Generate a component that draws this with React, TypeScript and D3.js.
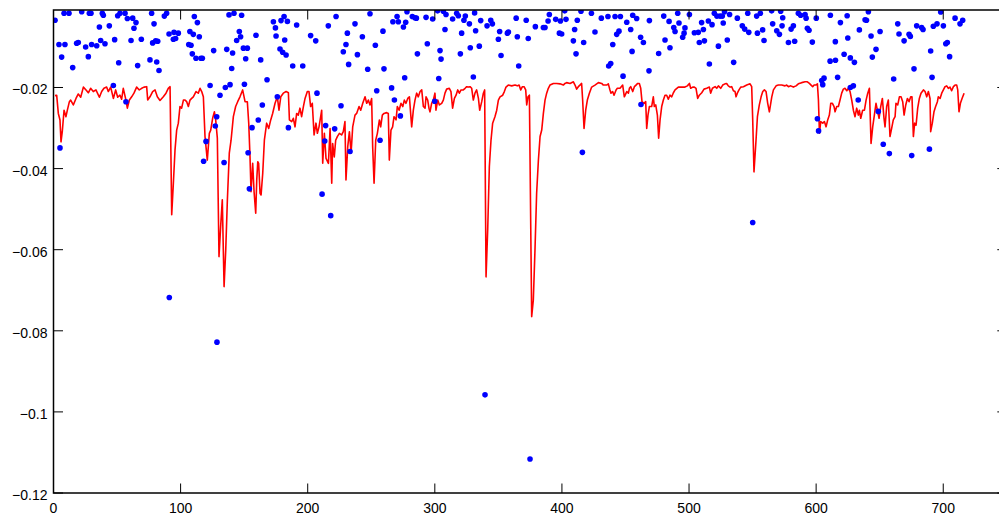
import React from "react";
import * as d3 from "d3";

const lineX = [1.2,2.5,3.8,5.1,5.9,6.9,8.3,9.8,10.9,12.5,13.5,15.6,17.7,19.5,21.4,23.5,25.6,27.4,29.2,31.3,33.4,36.1,37.9,39.7,41.8,43.1,45.0,47.1,48.9,50.5,52.3,53.6,54.9,57.0,58.1,59.7,61.5,63.3,65.4,67.5,69.4,71.2,73.3,74.1,75.9,78.0,79.9,81.7,83.8,86.4,88.5,90.3,91.7,93.0,94.3,95.6,96.9,98.2,99.5,100.8,102.2,103.5,104.8,106.1,107.4,108.7,110.0,112.1,113.9,115.3,116.6,117.9,119.2,121.0,122.6,123.7,125.2,126.6,127.6,128.9,130.2,131.5,132.8,134.2,135.5,136.8,138.3,139.7,141.5,143.3,144.9,146.7,148.8,150.7,152.5,153.6,154.6,155.4,156.7,157.8,159.1,159.9,160.7,161.4,162.5,163.3,164.6,165.9,167.7,169.3,170.9,172.4,174.3,176.1,177.4,178.8,180.8,183.0,184.8,185.6,187.4,188.7,190.0,191.3,192.6,193.9,195.2,196.6,197.9,199.7,201.0,202.3,203.6,205.0,206.5,207.6,208.9,210.2,211.0,211.8,213.1,214.4,216.3,217.6,218.9,219.6,220.9,222.0,223.3,224.9,226.7,228.0,229.3,230.1,231.5,232.8,234.1,235.4,237.2,238.5,240.4,241.7,243.3,245.1,246.4,247.7,249.0,250.3,251.1,252.2,253.5,254.8,256.4,257.4,258.7,260.0,262.1,263.4,264.2,265.5,266.8,267.9,269.5,270.5,271.9,273.4,274.8,276.0,277.3,278.7,280.0,281.8,283.1,284.4,285.7,287.0,288.4,289.7,291.0,292.3,293.1,294.4,295.4,296.2,297.5,298.8,300.1,300.9,302.3,303.6,305.4,306.7,308.0,309.3,311.4,312.7,314.0,315.4,316.7,318.0,319.3,320.6,322.4,323.8,325.1,326.4,327.7,329.0,330.3,331.6,332.9,334.3,335.3,336.9,338.2,339.2,340.3,341.6,342.9,344.2,345.5,347.3,348.7,350.0,351.3,353.4,354.7,356.0,357.8,360.5,363.1,364.9,366.3,367.6,368.9,370.2,371.5,372.3,373.3,374.4,376.2,377.5,378.8,380.1,381.5,382.8,384.1,385.4,386.7,388.0,389.3,390.6,393.3,395.9,398.5,401.1,402.4,403.7,406.4,409.0,410.3,411.6,412.9,414.2,415.5,416.3,417.4,418.7,420.0,421.6,423.4,426.0,428.7,431.3,432.6,435.2,436.5,437.8,438.6,439.9,441.0,442.6,443.6,445.7,447.8,449.1,451.0,452.3,453.1,454.1,455.7,457.0,458.3,459.6,460.9,462.0,463.0,464.6,465.9,466.7,467.7,468.8,470.6,471.9,472.7,473.8,475.1,476.1,477.2,478.5,479.8,481.1,482.4,483.7,485.0,486.4,487.7,489.0,491.6,494.2,496.8,498.7,500.3,501.3,502.9,504.2,505.5,506.8,508.1,510.0,511.8,513.9,516.0,517.0,518.4,520.5,521.8,523.1,524.9,526.5,528.3,529.6,530.9,532.3,533.6,534.9,536.2,537.0,538.0,539.3,540.7,542.8,545.4,548.0,549.3,550.1,551.1,552.7,553.8,555.3,556.7,558.0,559.3,560.6,561.9,563.2,565.1,566.4,568.5,570.3,572.9,575.5,576.8,578.2,580.0,582.1,584.2,586.0,588.6,591.3,593.1,594.7,596.0,597.3,598.4,599.7,601.0,601.8,602.6,603.6,605.2,606.5,607.8,609.1,610.4,611.5,612.8,614.1,614.9,616.2,617.5,618.8,620.1,621.4,622.7,624.1,625.4,626.7,628.0,629.3,630.6,631.9,633.2,634.0,635.1,636.6,638.0,639.3,640.6,641.9,643.2,644.5,645.8,647.1,648.2,649.5,650.8,652.1,653.4,654.2,655.5,656.8,658.1,659.4,660.7,662.1,662.8,664.2,665.5,666.8,668.1,669.2,670.5,671.8,673.1,674.4,675.4,676.5,677.5,678.6,679.9,681.2,682.5,684.4,685.7,687.0,688.3,689.6,690.1,691.4,692.7,694.0,695.4,696.1,697.5,698.8,700.1,701.4,702.7,704.0,705.3,706.6,708.0,709.3,710.6,711.4,712.4,713.5,714.8,716.4];

const lineY = [-0.0220,-0.0219,-0.0264,-0.0280,-0.0334,-0.0309,-0.0256,-0.0272,-0.0256,-0.0235,-0.0231,-0.0243,-0.0227,-0.0216,-0.0224,-0.0199,-0.0206,-0.0213,-0.0202,-0.0210,-0.0206,-0.0224,-0.0210,-0.0202,-0.0199,-0.0210,-0.0199,-0.0227,-0.0206,-0.0224,-0.0219,-0.0229,-0.0202,-0.0231,-0.0251,-0.0231,-0.0223,-0.0214,-0.0199,-0.0206,-0.0202,-0.0199,-0.0198,-0.0231,-0.0223,-0.0210,-0.0206,-0.0223,-0.0232,-0.0223,-0.0214,-0.0202,-0.0198,-0.0514,-0.0436,-0.0354,-0.0305,-0.0288,-0.0247,-0.0251,-0.0231,-0.0231,-0.0235,-0.0247,-0.0231,-0.0227,-0.0223,-0.0210,-0.0214,-0.0202,-0.0210,-0.0223,-0.0321,-0.0379,-0.0313,-0.0305,-0.0276,-0.0260,-0.0280,-0.0325,-0.0617,-0.0543,-0.0477,-0.0691,-0.0601,-0.0477,-0.0362,-0.0330,-0.0272,-0.0247,-0.0235,-0.0223,-0.0206,-0.0235,-0.0235,-0.0288,-0.0371,-0.0457,-0.0387,-0.0457,-0.0510,-0.0428,-0.0383,-0.0387,-0.0461,-0.0465,-0.0412,-0.0330,-0.0288,-0.0301,-0.0280,-0.0264,-0.0239,-0.0223,-0.0256,-0.0223,-0.0214,-0.0210,-0.0213,-0.0280,-0.0284,-0.0276,-0.0297,-0.0264,-0.0268,-0.0251,-0.0272,-0.0247,-0.0227,-0.0210,-0.0210,-0.0247,-0.0239,-0.0317,-0.0288,-0.0313,-0.0297,-0.0272,-0.0256,-0.0387,-0.0313,-0.0375,-0.0387,-0.0301,-0.0436,-0.0338,-0.0371,-0.0330,-0.0321,-0.0313,-0.0317,-0.0309,-0.0284,-0.0428,-0.0346,-0.0309,-0.0362,-0.0297,-0.0268,-0.0264,-0.0247,-0.0256,-0.0239,-0.0223,-0.0239,-0.0231,-0.0243,-0.0227,-0.0346,-0.0436,-0.0330,-0.0313,-0.0280,-0.0297,-0.0268,-0.0264,-0.0262,-0.0264,-0.0379,-0.0305,-0.0297,-0.0272,-0.0280,-0.0247,-0.0256,-0.0239,-0.0247,-0.0231,-0.0239,-0.0227,-0.0223,-0.0297,-0.0256,-0.0231,-0.0214,-0.0223,-0.0210,-0.0206,-0.0247,-0.0251,-0.0223,-0.0231,-0.0251,-0.0260,-0.0239,-0.0231,-0.0214,-0.0256,-0.0231,-0.0243,-0.0239,-0.0231,-0.0214,-0.0204,-0.0202,-0.0210,-0.0251,-0.0227,-0.0219,-0.0206,-0.0214,-0.0206,-0.0206,-0.0202,-0.0198,-0.0199,-0.0198,-0.0202,-0.0231,-0.0214,-0.0206,-0.0227,-0.0256,-0.0235,-0.0214,-0.0206,-0.0667,-0.0551,-0.0395,-0.0330,-0.0288,-0.0272,-0.0256,-0.0231,-0.0223,-0.0219,-0.0210,-0.0199,-0.0194,-0.0196,-0.0194,-0.0196,-0.0194,-0.0206,-0.0198,-0.0198,-0.0206,-0.0243,-0.0223,-0.0219,-0.0765,-0.0724,-0.0601,-0.0461,-0.0379,-0.0321,-0.0305,-0.0264,-0.0231,-0.0214,-0.0202,-0.0194,-0.0190,-0.0190,-0.0191,-0.0194,-0.0190,-0.0188,-0.0190,-0.0186,-0.0194,-0.0204,-0.0198,-0.0194,-0.0190,-0.0231,-0.0301,-0.0256,-0.0231,-0.0214,-0.0199,-0.0194,-0.0188,-0.0190,-0.0194,-0.0194,-0.0191,-0.0206,-0.0214,-0.0210,-0.0219,-0.0206,-0.0202,-0.0202,-0.0194,-0.0223,-0.0210,-0.0214,-0.0202,-0.0198,-0.0210,-0.0198,-0.0194,-0.0190,-0.0190,-0.0202,-0.0235,-0.0239,-0.0235,-0.0301,-0.0268,-0.0247,-0.0247,-0.0223,-0.0247,-0.0243,-0.0268,-0.0325,-0.0280,-0.0247,-0.0231,-0.0219,-0.0219,-0.0229,-0.0219,-0.0223,-0.0213,-0.0206,-0.0199,-0.0199,-0.0199,-0.0196,-0.0190,-0.0202,-0.0199,-0.0199,-0.0202,-0.0227,-0.0219,-0.0213,-0.0204,-0.0202,-0.0199,-0.0214,-0.0202,-0.0198,-0.0202,-0.0196,-0.0202,-0.0194,-0.0191,-0.0190,-0.0196,-0.0199,-0.0198,-0.0208,-0.0210,-0.0223,-0.0214,-0.0206,-0.0199,-0.0198,-0.0194,-0.0191,-0.0198,-0.0280,-0.0408,-0.0330,-0.0272,-0.0243,-0.0223,-0.0210,-0.0206,-0.0210,-0.0239,-0.0260,-0.0223,-0.0206,-0.0196,-0.0194,-0.0194,-0.0196,-0.0194,-0.0198,-0.0196,-0.0199,-0.0196,-0.0191,-0.0188,-0.0186,-0.0186,-0.0190,-0.0194,-0.0198,-0.0194,-0.0194,-0.0191,-0.0231,-0.0313,-0.0284,-0.0288,-0.0284,-0.0297,-0.0280,-0.0268,-0.0239,-0.0239,-0.0247,-0.0260,-0.0247,-0.0247,-0.0231,-0.0214,-0.0204,-0.0202,-0.0208,-0.0202,-0.0210,-0.0231,-0.0256,-0.0272,-0.0251,-0.0268,-0.0256,-0.0276,-0.0256,-0.0256,-0.0231,-0.0214,-0.0202,-0.0338,-0.0297,-0.0268,-0.0239,-0.0256,-0.0276,-0.0247,-0.0227,-0.0276,-0.0297,-0.0247,-0.0231,-0.0321,-0.0301,-0.0280,-0.0272,-0.0239,-0.0243,-0.0223,-0.0223,-0.0235,-0.0268,-0.0243,-0.0227,-0.0235,-0.0223,-0.0223,-0.0321,-0.0288,-0.0293,-0.0251,-0.0227,-0.0214,-0.0206,-0.0210,-0.0223,-0.0210,-0.0227,-0.0309,-0.0288,-0.0260,-0.0247,-0.0235,-0.0223,-0.0227,-0.0214,-0.0206,-0.0198,-0.0196,-0.0202,-0.0199,-0.0208,-0.0198,-0.0194,-0.0194,-0.0206,-0.0260,-0.0239,-0.0227,-0.0214];

const dotX = [1.2,4.3,9.0,6.4,8.3,12.2,15.1,18.2,19.5,22.2,25.3,27.4,28.2,29.5,30.0,34.0,36.1,37.1,38.4,39.2,40.5,43.9,47.1,48.1,50.5,51.3,52.3,56.3,57.0,58.1,61.0,62.3,63.3,64.9,66.2,69.1,75.9,77.2,78.0,79.1,80.4,81.2,82.0,83.0,87.2,89.0,90.9,5.1,91.1,
94.3,96.1,94.8,98.2,110.8,113.2,107.3,110.0,114.7,106.4,108.2,109.2,112.1,116.0,117.1,126.0,123.2,131.0,135.2,138.9,138.1,142.0,148.0,136.3,140.9,140.2,146.2,144.1,147.2,149.4,152.5,151.2,150.2,159.3,163.0,168.0,173.0,174.6,175.1,179.0,181.4,184.0,181.9,178.2,180.3,183.0,176.1,164.3,161.1,156.2,184.8,128.4,127.3,120.0,118.1,134.2,153.1,154.1,128.6,
191.3,188.2,196.1,202.3,206.3,207.3,216.2,222.3,226.2,214.1,221.2,213.4,211.3,218.1,233.3,231.2,230.1,228.0,232.2,237.2,239.1,243.0,247.2,249.0,253.2,254.3,259.2,260.0,256.9,266.0,268.2,267.0,270.3,271.3,277.1,275.3,278.1,276.3,272.9,
282.3,284.4,285.5,286.3,293.1,294.1,298.3,302.2,306.7,308.8,308.0,304.1,304.9,303.1,299.9,314.0,317.2,318.5,321.1,320.1,322.9,324.0,327.2,327.9,330.3,331.3,332.1,335.0,336.1,341.1,344.0,345.3,350.0,351.0,352.1,357.1,357.9,364.9,364.0,366.0,371.9,373.5,339.5,374.9,
379.1,385.4,386.7,389.1,390.1,395.1,398.8,398.0,399.8,402.2,403.2,410.0,409.0,411.1,412.1,415.0,417.1,416.1,423.2,426.0,431.0,436.2,441.8,446.0,440.0,436.8,438.4,443.1,444.9,448.1,451.0,454.1,455.2,455.7,458.8,461.9,464.1,462.2,468.5,468.8,
476.1,480.1,481.1,484.3,485.0,488.0,489.0,491.1,492.1,495.0,496.1,496.8,500.3,504.2,507.3,508.1,509.9,511.3,512.1,515.2,516.0,518.1,519.9,521.9,523.1,524.4,526.2,526.9,527.9,530.1,531.9,535.1,538.0,541.9,543.8,547.0,546.2,550.1,553.2,553.8,556.1,557.9,559.0,
565.0,565.8,569.0,571.1,572.1,573.7,573.2,580.3,582.1,578.2,583.1,586.0,587.8,591.3,592.1,593.1,594.4,597.0,600.1,611.2,619.1,624.4,615.1,624.9,622.0,626.9,630.1,611.0,615.2,634.0,638.5,639.6,641.1,643.2,650.3,647.1,644.2,606.2,604.4,605.2,616.9,626.9,629.3,633.1,601.0,601.9,648.9,652.8,657.6,
664.2,665.2,669.2,673.1,674.1,661.0,675.2,677.0,679.1,683.0,684.1,689.1,690.1,691.2,692.2,695.1,698.0,700.1,702.0,703.2,705.0,709.3,713.2,715.3];

const dotY = [-0.0034,-0.0094,-0.0094,-0.0125,-0.0017,-0.0017,-0.0151,-0.0091,-0.0089,-0.0013,-0.0100,-0.0124,-0.0017,-0.0017,-0.0094,-0.0097,-0.0051,-0.0084,-0.0017,-0.0022,-0.0092,-0.0048,-0.0195,-0.0082,-0.0023,-0.0139,-0.0017,-0.0017,-0.0235,-0.0030,-0.0084,-0.0029,-0.0054,-0.0040,-0.0146,-0.0081,-0.0132,-0.0017,-0.0090,-0.0043,-0.0085,-0.0137,-0.0086,-0.0158,-0.0024,-0.0017,-0.0068,-0.0349,-0.0718,
-0.0081,-0.0079,-0.0064,-0.0066,-0.0025,-0.0040,-0.0062,-0.0069,-0.0075,-0.0094,-0.0096,-0.0117,-0.0128,-0.0128,-0.0128,-0.0109,-0.0195,-0.0219,-0.0200,-0.0193,-0.0021,-0.0017,-0.0022,-0.0106,-0.0115,-0.0153,-0.0062,-0.0084,-0.0075,-0.0103,-0.0103,-0.0129,-0.0192,-0.0071,-0.0132,-0.0181,-0.0038,-0.0053,-0.0073,-0.0035,-0.0025,-0.0037,-0.0083,-0.0105,-0.0113,-0.0120,-0.0223,-0.0243,-0.0280,-0.0299,-0.0299,-0.0272,-0.0295,-0.0333,-0.0382,-0.0385,-0.0361,-0.0450,-0.0828,
-0.0046,-0.0147,-0.0147,-0.0072,-0.0085,-0.0214,-0.0048,-0.0025,-0.0245,-0.0294,-0.0302,-0.0332,-0.0463,-0.0516,-0.0358,-0.0066,-0.0094,-0.0112,-0.0143,-0.0043,-0.0119,-0.0075,-0.0155,-0.0018,-0.0096,-0.0208,-0.0061,-0.0154,-0.0330,-0.0201,-0.0231,-0.0038,-0.0025,-0.0038,-0.0039,-0.0051,-0.0013,-0.0176,-0.0270,
-0.0025,-0.0028,-0.0029,-0.0117,-0.0027,-0.0092,-0.0031,-0.0011,-0.0012,-0.0020,-0.0057,-0.0109,-0.0130,-0.0178,-0.0234,-0.0031,-0.0017,-0.0023,-0.0066,-0.0117,-0.0034,-0.0024,-0.0043,-0.0102,-0.0174,-0.0016,-0.0060,-0.0098,-0.0035,-0.0048,-0.0034,-0.0043,-0.0081,-0.0062,-0.0121,-0.0066,-0.0063,-0.0075,-0.0029,-0.0147,-0.0034,-0.0079,-0.0958,-0.1116,
-0.0050,-0.0052,-0.0052,-0.0036,-0.0020,-0.0032,-0.0036,-0.0066,-0.0068,-0.0011,-0.0032,-0.0057,-0.0085,-0.0117,-0.0034,-0.0012,-0.0089,-0.0360,-0.0017,-0.0063,-0.0029,-0.0025,-0.0025,-0.0025,-0.0094,-0.0147,-0.0141,-0.0069,-0.0061,-0.0172,-0.0039,-0.0057,-0.0111,-0.0022,-0.0030,-0.0076,-0.0089,-0.0242,-0.0159,-0.0035,
-0.0116,-0.0024,-0.0083,-0.0037,-0.0102,-0.0052,-0.0062,-0.0017,-0.0041,-0.0076,-0.0066,-0.0053,-0.0020,-0.0065,-0.0064,-0.0089,-0.0040,-0.0057,-0.0085,-0.0036,-0.0142,-0.0045,-0.0017,-0.0024,-0.0098,-0.0024,-0.0024,-0.0041,-0.0013,-0.0083,-0.0020,-0.0138,-0.0029,-0.0048,-0.0056,-0.0064,-0.0017,-0.0533,-0.0024,-0.0066,-0.0017,-0.0058,-0.0084,
-0.0011,-0.0043,-0.0060,-0.0069,-0.0012,-0.0028,-0.0048,-0.0056,-0.0048,-0.0089,-0.0086,-0.0017,-0.0022,-0.0020,-0.0029,-0.0054,-0.0059,-0.0088,-0.0029,-0.0022,-0.0040,-0.0023,-0.0087,-0.0078,-0.0118,-0.0127,-0.0138,-0.0135,-0.0133,-0.0058,-0.0033,-0.0034,-0.0013,-0.0073,-0.0062,-0.0106,-0.0125,-0.0177,-0.0183,-0.0193,-0.0175,-0.0200,-0.0196,-0.0231,-0.0277,-0.0307,-0.0259,-0.0340,-0.0363,
-0.0043,-0.0068,-0.0085,-0.0069,-0.0074,-0.0179,-0.0368,-0.0154,-0.0048,-0.0052,-0.0057,-0.0352,-0.0110,-0.0175,-0.0049,-0.0043,-0.0014,-0.0048,-0.0092,-0.0089,-0.0124,-0.0029,-0.0043,-0.0034];

const xTicks = [0, 100, 200, 300, 400, 500, 600, 700];
const yTicks = [-0.12, -0.1, -0.08, -0.06, -0.04, -0.02];
const yTickLabels = ["-0.12", "-0.1", "-0.08", "-0.06", "-0.04", "-0.02"];

const W = 999;
const H = 514;
const left = 53.5;
const top = 10;
const bottom = 493;
const right = 1006.8;

export default function App() {
  const x = d3.scaleLinear().domain([0, 750]).range([left, right]);
  const y = d3.scaleLinear().domain([-0.12, -0.00089]).range([bottom, top]);
  const line = d3
    .line<number>()
    .x((_, i) => x(lineX[i]))
    .y((d) => y(d));
  const tl = 9.5;
  const font = "'Liberation Sans', Arial, Helvetica, sans-serif";
  return (
    <svg
      width={W}
      height={H}
      style={{ position: "absolute", left: 0, top: 0, background: "#fff" }}
    >
      <defs>
        <clipPath id="plot">
          <rect x={left} y={top} width={right - left} height={bottom - top} />
        </clipPath>
      </defs>
      <rect x={0} y={0} width={W} height={H} fill="#fff" />
      <g clipPath="url(#plot)">
        <path d={line(lineY) || ""} fill="none" stroke="#ff0000" strokeWidth={1.6} strokeLinejoin="round" />
        {dotX.map((dx, i) => (
          <circle key={i} cx={x(dx)} cy={y(dotY[i])} r={2.8} fill="#0000ff" />
        ))}
      </g>
      <g stroke="#000" strokeWidth={1.5} fill="none">
        <rect x={left} y={top} width={right - left} height={bottom - top} />
        {xTicks.map((t) => (
          <g key={"x" + t}>
            <line x1={x(t)} x2={x(t)} y1={bottom} y2={bottom - tl} strokeWidth={1} />
            <line x1={x(t)} x2={x(t)} y1={top} y2={top + tl} strokeWidth={1} />
          </g>
        ))}
        {yTicks.map((t) => (
          <g key={"y" + t}>
            <line x1={left} x2={left + tl} y1={y(t)} y2={y(t)} strokeWidth={1} />
            <line x1={right} x2={right - tl} y1={y(t)} y2={y(t)} strokeWidth={1} />
          </g>
        ))}
      </g>
      <g fontFamily={font} fontSize={14} fill="#000">
        {xTicks.map((t) => (
          <text key={"xl" + t} x={x(t)} y={512.5} textAnchor="middle">
            {t}
          </text>
        ))}
        {yTicks.map((t, i) => (
          <text key={"yl" + t} x={47.5} y={y(t) + 7} textAnchor="end">
            {yTickLabels[i].replace("-", "\u2212")}
          </text>
        ))}
      </g>
    </svg>
  );
}
